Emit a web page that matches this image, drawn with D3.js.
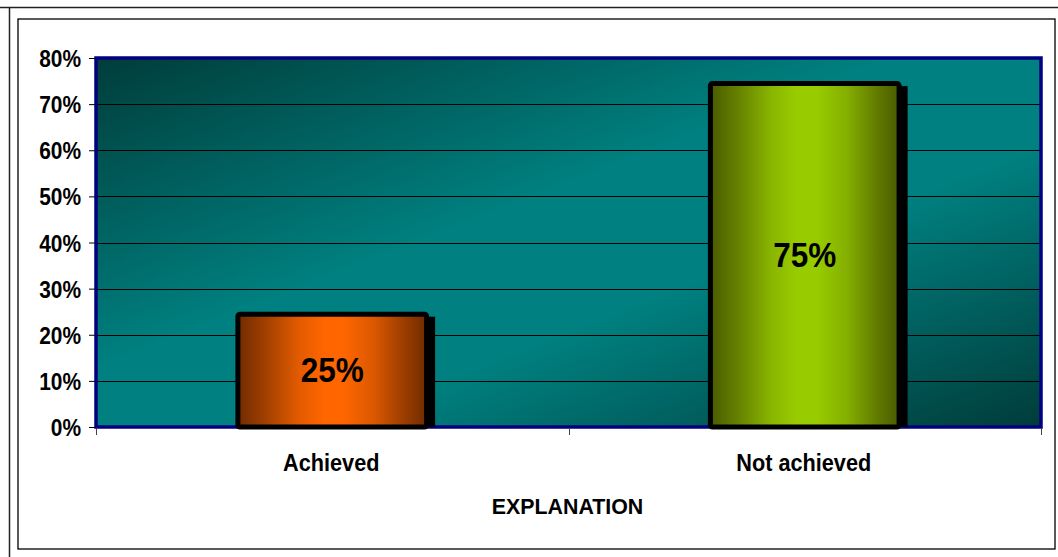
<!DOCTYPE html>
<html>
<head>
<meta charset="utf-8">
<script src="https://cdn.jsdelivr.net/npm/d3@7"></script>
<style>
  html, body { margin: 0; padding: 0; background: #fff; }
  svg { display: block; font-family: Arial, "Liberation Sans", sans-serif; }
</style>
</head>
<body>
<svg id="chart" width="1058" height="557"></svg>
<script>
// Chart data
const categories = ["Achieved", "Not achieved"];
const values = [25, 75];
const yTicks = [0, 10, 20, 30, 40, 50, 60, 70, 80];
const axisTitle = "EXPLANATION";

const svg = d3.select("#chart");
const W = 1058, H = 557;
const plot = { left: 96, top: 58, right: 1041, bottom: 427 };

// Bold, slightly condensed text placed at (x, y)
function label(parent, x, y, str, size, squeeze, anchor) {
  return parent.append("text")
    .attr("transform", `translate(${x},${y}) scale(${squeeze},1)`)
    .attr("text-anchor", anchor || "middle")
    .attr("font-size", size).attr("font-weight", "bold").attr("fill", "#000")
    .text(str);
}

// Outer frames
svg.append("line").attr("x1", 0).attr("x2", W).attr("y1", 7.5).attr("y2", 7.5)
  .attr("stroke", "#222").attr("stroke-width", 1.5);
svg.append("line").attr("x1", 9.5).attr("x2", 9.5).attr("y1", 7).attr("y2", H)
  .attr("stroke", "#222").attr("stroke-width", 1.5);
svg.append("rect").attr("x", 18).attr("y", 19).attr("width", 1037).attr("height", 530)
  .attr("fill", "none").attr("stroke", "#000").attr("stroke-width", 1.3);

const defs = svg.append("defs");

// Plot background: dark teal corners, bright teal across the middle diagonal
const bg = defs.append("linearGradient").attr("id", "bg")
  .attr("x1", "0%").attr("y1", "0%").attr("x2", "100%").attr("y2", "100%");
bg.append("stop").attr("offset", "0%").attr("stop-color", "#003d3a");
bg.append("stop").attr("offset", "42%").attr("stop-color", "#008080");
bg.append("stop").attr("offset", "62%").attr("stop-color", "#008080");
bg.append("stop").attr("offset", "100%").attr("stop-color", "#003c3a");

// Horizontal bar shading: dark edges, broad bright centre
const barColors = [
  { edge: "#702c00", mid: "#ff6600" },
  { edge: "#4a5a00", mid: "#99cc00" }
];
barColors.forEach((c, i) => {
  const g = defs.append("linearGradient").attr("id", "bar" + i)
    .attr("x1", "0%").attr("y1", "0%").attr("x2", "100%").attr("y2", "0%");
  const mix = d3.interpolateRgb(c.edge, c.mid);
  [[0, 0], [0.15, 0.35], [0.32, 0.8], [0.46, 1], [0.56, 1], [0.72, 0.75], [0.88, 0.3], [1, 0]]
    .forEach(([o, t]) => g.append("stop").attr("offset", o).attr("stop-color", mix(t)));
});

const x = d3.scaleBand().domain(categories).range([plot.left, plot.right])
  .paddingInner(0.59).paddingOuter(0.295);
const y = d3.scaleLinear().domain([0, 80]).range([plot.bottom, plot.top]);

// Plot area
svg.append("rect").attr("x", plot.left).attr("y", plot.top)
  .attr("width", plot.right - plot.left).attr("height", plot.bottom - plot.top)
  .attr("fill", "url(#bg)");

// Gridlines
svg.append("g").selectAll("line").data(yTicks.slice(1, -1)).join("line")
  .attr("x1", plot.left).attr("x2", plot.right)
  .attr("y1", d => Math.round(y(d)) + 0.5).attr("y2", d => Math.round(y(d)) + 0.5)
  .attr("stroke", "#000").attr("stroke-width", 1);

// Plot border
svg.append("rect").attr("x", plot.left).attr("y", plot.top)
  .attr("width", plot.right - plot.left).attr("height", plot.bottom - plot.top)
  .attr("fill", "none").attr("stroke", "#000080").attr("stroke-width", 3.5);

// Bars: shadow, then gradient body with thick black outline
const bars = svg.append("g").selectAll("g").data(categories).join("g");
bars.append("rect")
  .attr("x", d => x(d) + 6).attr("y", (d, i) => y(values[i]) + 5)
  .attr("width", x.bandwidth()).attr("height", (d, i) => plot.bottom - y(values[i]) - 5)
  .attr("fill", "#000");
bars.append("rect")
  .attr("x", d => x(d) + 2.5).attr("y", (d, i) => y(values[i]) + 2.5)
  .attr("width", x.bandwidth() - 5).attr("height", (d, i) => plot.bottom - y(values[i]) - 2.5)
  .attr("rx", 2)
  .attr("fill", (d, i) => `url(#bar${i})`)
  .attr("stroke", "#000").attr("stroke-width", 5);

// Value labels
bars.each(function (d, i) {
  label(d3.select(this), x(d) + x.bandwidth() / 2,
    (y(values[i]) + plot.bottom) / 2 + 12.5, values[i] + "%", 35, 0.9);
});

// Y axis
const yAxis = svg.append("g").attr("transform", `translate(${plot.left - 1},0)`)
  .call(d3.axisLeft(y).tickValues(yTicks).tickFormat(d => d + "%").tickSize(6));
yAxis.select(".domain").remove();
yAxis.selectAll(".tick line").attr("stroke", "#000");
yAxis.selectAll(".tick text").remove();
yAxis.selectAll(".tick").each(function (d) {
  label(d3.select(this), -14, 8.5, d + "%", 23.5, 0.89, "end")
    .attr("font-family", "Arial, 'Liberation Sans', sans-serif");
});

// X axis ticks at category boundaries
const bounds = [plot.left, (plot.left + plot.right) / 2, plot.right];
svg.append("g").selectAll("line").data(bounds).join("line")
  .attr("x1", d => Math.round(d) + 0.5).attr("x2", d => Math.round(d) + 0.5)
  .attr("y1", plot.bottom + 1).attr("y2", plot.bottom + 8)
  .attr("stroke", "#444").attr("stroke-width", 1);

// Category labels
const catG = svg.append("g");
categories.forEach(c => label(catG, x(c) + x.bandwidth() / 2 - 1, 471, c, 24.5, 0.885));

// Axis title
label(svg, 567.5, 514, axisTitle, 22.5, 0.95);
</script>
</body>
</html>
